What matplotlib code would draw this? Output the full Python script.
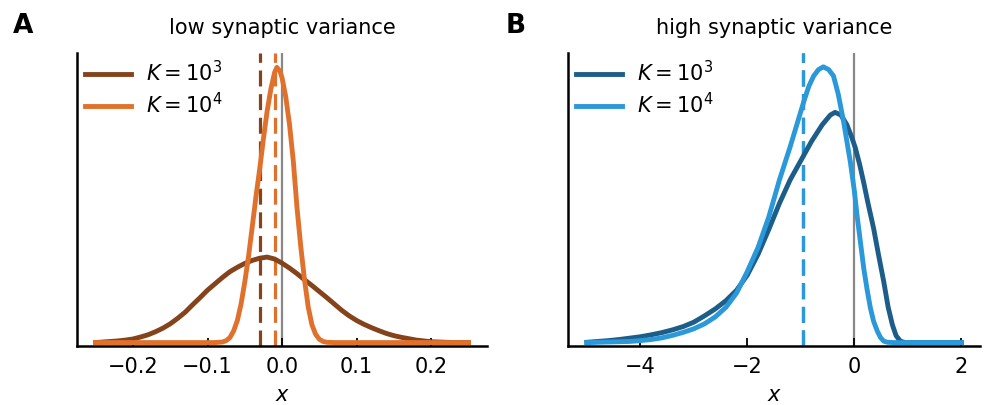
import numpy as np
import matplotlib
matplotlib.use('Agg')
import matplotlib.pyplot as plt

# panel A: low synaptic variance (density, peak-normalised)
xA_k3 = [-0.25, -0.24, -0.23, -0.22, -0.21, -0.20, -0.19, -0.18, -0.17, -0.16,
         -0.15, -0.14, -0.13, -0.12, -0.11, -0.10, -0.09, -0.08, -0.07, -0.06,
         -0.05, -0.04, -0.03, -0.02, -0.01, 0.0, 0.01, 0.02, 0.03, 0.04,
         0.05, 0.06, 0.07, 0.08, 0.09, 0.10, 0.11, 0.12, 0.13, 0.14,
         0.15, 0.16, 0.17, 0.18, 0.19, 0.20, 0.21, 0.22, 0.23, 0.25]
yA_k3 = [0.0, 0.002, 0.004, 0.006, 0.009, 0.013, 0.02, 0.028, 0.039, 0.052,
         0.068, 0.088, 0.11, 0.137, 0.163, 0.19, 0.213, 0.236, 0.257, 0.273,
         0.287, 0.298, 0.306, 0.31, 0.303, 0.288, 0.27, 0.25, 0.228, 0.207,
         0.185, 0.163, 0.14, 0.117, 0.097, 0.08, 0.066, 0.054, 0.043, 0.033,
         0.025, 0.019, 0.014, 0.009, 0.006, 0.003, 0.002, 0.001, 0.0, 0.0]
xA_k4 = [-0.25, -0.09, -0.08, -0.075, -0.07, -0.065, -0.06, -0.055, -0.05, -0.045,
         -0.04, -0.035, -0.03, -0.025, -0.02, -0.015, -0.01, -0.007, -0.003, 0.0,
         0.005, 0.01, 0.015, 0.02, 0.025, 0.03, 0.035, 0.04, 0.045, 0.05,
         0.055, 0.06, 0.07, 0.25]
yA_k4 = [0.0, 0.0, 0.002, 0.007, 0.018, 0.042, 0.08, 0.14, 0.22, 0.312,
         0.42, 0.53, 0.63, 0.74, 0.84, 0.92, 0.98, 0.998, 0.985, 0.96,
         0.89, 0.79, 0.66, 0.49, 0.35, 0.23, 0.13, 0.065, 0.03, 0.012,
         0.004, 0.001, 0.0, 0.0]
meanA = [-0.030, -0.009]

# panel B: high synaptic variance
xB_k3 = [-5.0, -4.8, -4.6, -4.4, -4.2, -4.0, -3.8, -3.6, -3.4, -3.2,
         -3.0, -2.8, -2.6, -2.4, -2.2, -2.0, -1.8, -1.6, -1.4, -1.2,
         -1.0, -0.8, -0.6, -0.45, -0.36, -0.25, -0.14, -0.05, 0.02, 0.1,
         0.175, 0.25, 0.36, 0.45, 0.55, 0.63, 0.71, 0.78, 0.86, 0.95, 2.0]
yB_k3 = [0.001, 0.004, 0.007, 0.011, 0.016, 0.021, 0.028, 0.036, 0.046, 0.058,
         0.074, 0.097, 0.122, 0.152, 0.19, 0.245, 0.32, 0.41, 0.505, 0.59,
         0.66, 0.73, 0.79, 0.825, 0.835, 0.825, 0.79, 0.745, 0.705, 0.645,
         0.58, 0.51, 0.414, 0.32, 0.22, 0.13, 0.065, 0.025, 0.005, 0.0, 0.0]
xB_k4 = [-5.0, -4.6, -4.2, -4.0, -3.8, -3.6, -3.4, -3.2, -3.0, -2.8,
         -2.6, -2.4, -2.2, -2.0, -1.8, -1.6, -1.4, -1.2, -1.08, -0.95,
         -0.85, -0.76, -0.67, -0.58, -0.48, -0.39, -0.3, -0.2, -0.14, -0.075,
         0.0, 0.05, 0.1, 0.175, 0.24, 0.30, 0.36, 0.43, 0.49, 0.55,
         0.62, 0.73, 2.0]
yB_k4 = [0.0, 0.002, 0.004, 0.007, 0.011, 0.017, 0.026, 0.037, 0.05, 0.068,
         0.093, 0.128, 0.18, 0.258, 0.345, 0.455, 0.59, 0.71, 0.787, 0.871,
         0.93, 0.967, 0.99, 1.0, 0.99, 0.967, 0.9, 0.80, 0.73, 0.655,
         0.55, 0.462, 0.385, 0.27, 0.19, 0.125, 0.077, 0.041, 0.018, 0.005,
         0.001, 0.0, 0.0]
meanB = [-0.96, -0.96]

labels = ['$K = 10^3$', '$K = 10^4$']
colsA = ['#84431a', '#e0712c']
colsB = ['#1d5d89', '#2a98d9']

plt.rcParams['font.family'] = 'DejaVu Sans'
plt.rcParams['font.size'] = 15

fig = plt.figure(figsize=(9.88, 4.05), dpi=100)
axA = fig.add_axes([0.078, 0.146, 0.415, 0.723])
axB = fig.add_axes([0.575, 0.146, 0.417, 0.723])

panels = [(axA, [(xA_k3, yA_k3), (xA_k4, yA_k4)], meanA, colsA, 'low synaptic variance',
           [-0.2, -0.1, 0.0, 0.1, 0.2]),
          (axB, [(xB_k3, yB_k3), (xB_k4, yB_k4)], meanB, colsB, 'high synaptic variance',
           [-4, -2, 0, 2])]

for ax, curves, means, cols, title, ticks in panels:
    ax.axvline(0, color='#888888', lw=1.6, zorder=1)
    for (xs, ys), m, c, lab in zip(curves, means, cols, labels):
        ax.plot(xs, ys, color=c, lw=3.5, label=lab, zorder=3)
        ax.axvline(m, color=c, lw=2.3, ls=(0, (5, 2.4)), zorder=2)
    ax.set_ylim(-0.012, 1.05)
    ax.set_xticks(ticks)
    ax.set_yticks([])
    ax.set_xlabel('$x$', labelpad=6)
    ax.set_title(title, fontsize=15, pad=14)
    ax.tick_params(axis='x', direction='in', length=6, width=1.3, pad=8)
    for s in ['top', 'right']:
        ax.spines[s].set_visible(False)
    for s in ['left', 'bottom']:
        ax.spines[s].set_linewidth(1.8)
    ax.legend(loc='upper left', frameon=False, handlelength=2.2, handletextpad=0.7,
              borderaxespad=0.0, labelspacing=0.35, bbox_to_anchor=(0.0, 1.005))

fig.text(0.013, 0.918, 'A', fontsize=19, fontweight='bold')
fig.text(0.512, 0.918, 'B', fontsize=19, fontweight='bold')

fig.savefig('out.png', dpi=100)
